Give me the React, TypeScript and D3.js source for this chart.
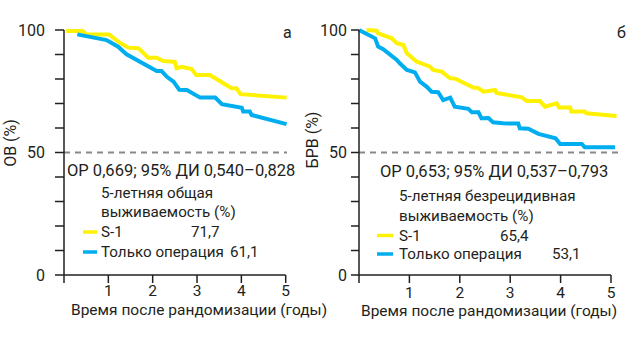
import React from "react";
import * as d3 from "d3";

// ---- Data ----
const xTicks = [1, 2, 3, 4, 5];
const yMajor = [0, 50, 100];
const yMinor = [10, 20, 30, 40, 60, 70, 80, 90];

// Panel а: overall survival (ОВ)
const osS1: [number, number][] = [
  [0.05, 99.6], [0.42, 99.6], [0.51, 98.2], [1.02, 98.2], [1.26, 94.8], [1.45, 92.8],
  [1.68, 92.6], [1.9, 88.7], [2.09, 88.7], [2.24, 87.3], [2.5, 87.0], [2.54, 84.4],
  [2.65, 85.0], [2.88, 84.1], [2.98, 81.6], [3.29, 81.6], [3.78, 76.2], [3.89, 76.2],
  [3.98, 73.8], [5.02, 72.4],
];
const osSurgery: [number, number][] = [
  [0.3, 98.2], [0.96, 95.9], [1.22, 93.2], [1.41, 90.1], [2.09, 83.3], [2.2, 83.3],
  [2.32, 80.9], [2.47, 78.9], [2.6, 75.6], [2.77, 75.5], [3.07, 72.4], [3.41, 72.4],
  [3.56, 69.7], [4.01, 68.3], [4.04, 66.7], [4.19, 66.7], [4.23, 65.3], [5.02, 61.6],
];

// Panel б: relapse-free survival (БРВ)
const rfsS1: [number, number][] = [
  [0.15, 100], [0.35, 99.7], [0.38, 98.6], [0.65, 96.6], [0.75, 94.6], [0.88, 93.9],
  [0.95, 90.5], [1.14, 87.1], [1.41, 85.0], [1.47, 83.7], [1.64, 83.0], [1.81, 80.3],
  [1.9, 80.2], [2.27, 76.5], [2.37, 76.3], [2.47, 74.8], [2.7, 75.5], [2.73, 74.3],
  [3.23, 72.5], [3.33, 71.0], [3.59, 71.0], [3.69, 68.7], [3.92, 70.1], [3.97, 68.4],
  [4.19, 68.4], [4.21, 66.7], [4.48, 66.7], [4.51, 66.0], [5.11, 64.9],
];
const rfsSurgery: [number, number][] = [
  [0, 100], [0.32, 96.6], [0.38, 93.2], [0.48, 92.2], [0.75, 87.8], [0.81, 86.4],
  [0.95, 83.7], [1.11, 82.7], [1.21, 78.9], [1.34, 76.9], [1.44, 74.8], [1.57, 74.6],
  [1.67, 71.4], [1.81, 72.4], [1.9, 68.7], [2.17, 67.8], [2.24, 66.4], [2.37, 66.4],
  [2.43, 64.0], [2.57, 64.1], [2.66, 62.3], [2.86, 61.9], [3.16, 61.8], [3.19, 59.9],
  [3.36, 59.7], [3.56, 57.6], [3.9, 55.8], [3.99, 53.5], [4.42, 53.5], [4.48, 52.1],
  [5.08, 52.1],
];

const YELLOW = "#FFF200";
const BLUE = "#00AEEF";
const FONT = "Roboto, 'Open Sans', sans-serif";
const TXT = "#231F20";
const LEG_FS = 15.2;

type PanelProps = {
  x0: number; x1: number; dashEnd: number; tickLen: number; labelRight: number;
  s1: [number, number][]; surg: [number, number][];
  yLabel: string; yLabelX: number; yLabelY: number;
  letter: string; letterX: number;
  hr: string; hrX: number; hrY: number;
  legX: number; legLines: string[]; legY: number[];
  sw: [number, number]; val1: string; val1X: number; val2: string; val2X: number;
  tickLabY: number; titleY: number; titleX: number;
};

function Panel(p: PanelProps) {
  const x = d3.scaleLinear().domain([0, 5]).range([p.x0, p.x1]);
  const y = d3.scaleLinear().domain([0, 100]).range([275, 30]);
  const line = d3.line<[number, number]>().x((d) => x(d[0])).y((d) => y(d[1]));
  const yTicks = [...yMajor, ...yMinor];
  return (
    <g fontFamily={FONT} fill={TXT}>
      <line x1={x(0)} x2={p.dashEnd} y1={y(50)} y2={y(50)} stroke="#888" strokeWidth={2} strokeDasharray="6,5" />
      <path d={line(p.s1) || ""} fill="none" stroke={YELLOW} strokeWidth={4} strokeLinejoin="miter" />
      <path d={line(p.surg) || ""} fill="none" stroke={BLUE} strokeWidth={4} strokeLinejoin="miter" />
      <line x1={x(0)} x2={x(0)} y1={y(100)} y2={y(0) + 8} stroke={TXT} strokeWidth={1.5} />
      {yTicks.map((t) => (
        <line key={"yt" + t} x1={x(0) - p.tickLen} x2={x(0)} y1={y(t)} y2={y(t)} stroke={TXT} strokeWidth={1.5} />
      ))}
      {yMajor.map((t) => (
        <text key={"yl" + t} x={p.labelRight} y={y(t)} dy="0.36em" textAnchor="end" fontSize={16}>{t}</text>
      ))}
      <line x1={x(0)} x2={x(5)} y1={y(0)} y2={y(0)} stroke={TXT} strokeWidth={1.5} />
      {xTicks.map((t) => (
        <g key={"xt" + t}>
          <line x1={x(t)} x2={x(t)} y1={y(0)} y2={y(0) + 8} stroke={TXT} strokeWidth={1.5} />
          <text x={x(t)} y={p.tickLabY} textAnchor="middle" fontSize={15.5}>{t}</text>
        </g>
      ))}
      <text x={p.titleX} y={p.titleY} fontSize={15.5}>Время после рандомизации (годы)</text>
      <text transform={`translate(${p.yLabelX},${p.yLabelY}) rotate(-90)`} textAnchor="middle" fontSize={16}>{p.yLabel}</text>
      <text x={p.letterX} y={38} fontSize={16}>{p.letter}</text>
      <text x={p.hrX} y={p.hrY} fontSize={16.5}>{p.hr}</text>
      {p.legLines.map((s, i) => (
        <text key={"lg" + i} x={p.legX} y={p.legY[i]} fontSize={LEG_FS}>{s}</text>
      ))}
      <line x1={p.sw[0]} x2={p.sw[1]} y1={p.legY[2] - 5} y2={p.legY[2] - 5} stroke={YELLOW} strokeWidth={3.5} />
      <line x1={p.sw[0]} x2={p.sw[1]} y1={p.legY[3] - 5} y2={p.legY[3] - 5} stroke={BLUE} strokeWidth={3.5} />
      <text x={p.val1X} y={p.legY[2]} fontSize={LEG_FS}>{p.val1}</text>
      <text x={p.val2X} y={p.legY[3]} fontSize={LEG_FS}>{p.val2}</text>
    </g>
  );
}

export default function App() {
  return (
    <svg width={638} height={337} style={{ display: "block", position: "absolute", left: 0, top: 0 }}>
      <rect width={638} height={337} fill="#fff" />
      <Panel
        x0={64} x1={285.7} dashEnd={287} tickLen={9} labelRight={45}
        s1={osS1} surg={osSurgery}
        yLabel="ОВ (%)" yLabelX={15.5} yLabelY={143}
        letter="а" letterX={283}
        hr="ОР 0,669; 95% ДИ 0,540–0,828" hrX={67} hrY={176}
        legX={101} legLines={["5-летняя общая", "выживаемость (%)", "S-1", "Только операция"]}
        legY={[198, 217, 237, 257]} sw={[83, 97]}
        val1="71,7" val1X={191} val2="61,1" val2X={230}
        tickLabY={296} titleY={314.5} titleX={71}
      />
      <Panel
        x0={359} x1={611} dashEnd={618} tickLen={8} labelRight={347}
        s1={rfsS1} surg={rfsSurgery}
        yLabel="БРВ (%)" yLabelX={318} yLabelY={140}
        letter="б" letterX={617}
        hr="ОР 0,653; 95% ДИ 0,537–0,793" hrX={380} hrY={176.5}
        legX={399} legLines={["5-летняя безрецидивная", "выживаемость (%)", "S-1", "Только операция"]}
        legY={[201, 221, 240.5, 259]} sw={[377, 393]}
        val1="65,4" val1X={500} val2="53,1" val2X={552}
        tickLabY={297.5} titleY={316} titleX={361}
      />
    </svg>
  );
}
